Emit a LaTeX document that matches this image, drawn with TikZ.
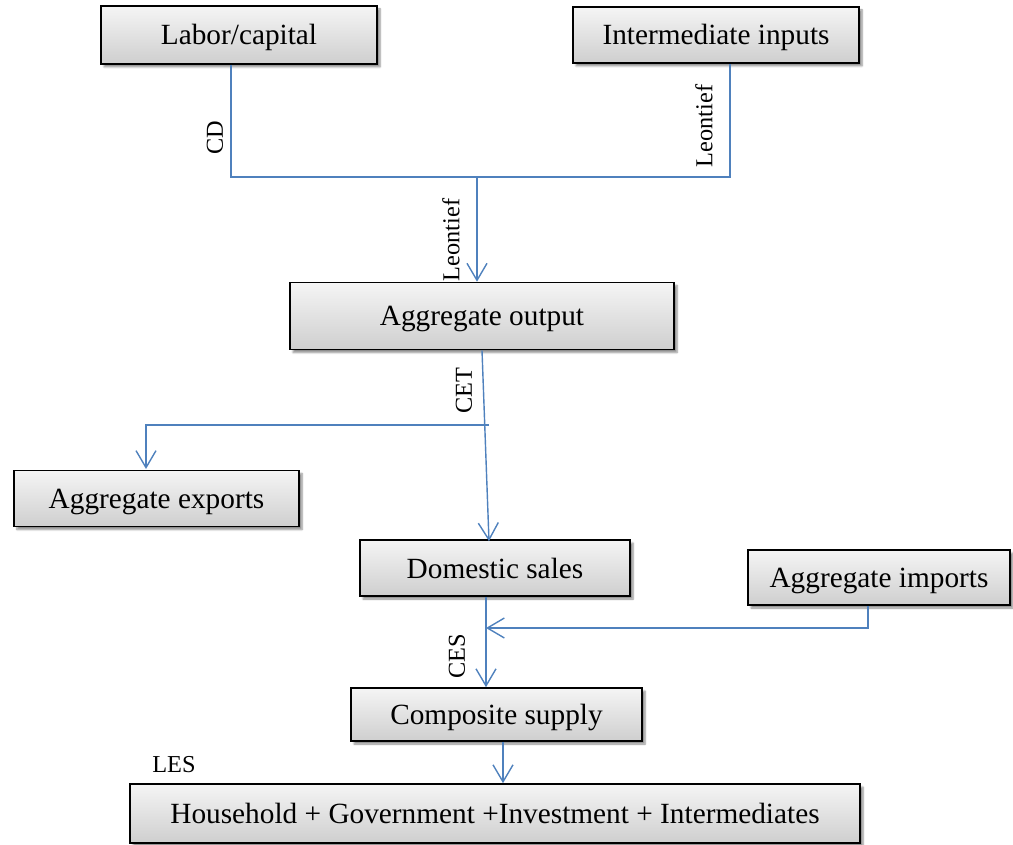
\documentclass[tikz,border=0pt]{standalone}
\usepackage{fontspec}
\setmainfont{Liberation Serif}
\usetikzlibrary{arrows.meta,shadows.blur}
\definecolor{linkblue}{HTML}{4F81BD}
\begin{document}
\begin{tikzpicture}[x=1pt,y=-1pt,
  box/.style={draw=black,line width=1.6pt,top color=gray!8,bottom color=gray!38,
    inner sep=0pt,align=center,font=\fontsize{29.3}{34}\selectfont,
    text height=26pt,text depth=6pt,
    blur shadow={shadow xshift=3pt,shadow yshift=-3pt,shadow blur steps=6,shadow opacity=45}},
  link/.style={draw=linkblue,line width=1.4pt},
  flow/.style={link,-{Straight Barb[length=17pt,width=20pt,line width=1.4pt]}},
  tag/.style={font=\fontsize{24.3}{28}\selectfont,inner sep=0pt},
  vtag/.style={tag,rotate=90}]
\useasboundingbox (0,0) rectangle (1013,845);

% boxes
\node[box,minimum width=276pt,minimum height=58pt] (lab) at (239,35) {Labor/capital};
\node[box,minimum width=286pt,minimum height=56pt] (int) at (716,35) {Intermediate inputs};
\node[box,minimum width=384pt,minimum height=67pt] (out) at (482,316) {Aggregate output};
\node[box,minimum width=285pt,minimum height=56pt] (exp) at (156.5,498.5) {Aggregate exports};
\node[box,minimum width=270pt,minimum height=56pt] (dom) at (495,568) {Domestic sales};
\node[box,minimum width=262pt,minimum height=55pt] (imp) at (879,577.5) {Aggregate imports};
\node[box,minimum width=291pt,minimum height=53pt] (comp) at (496.5,714.5) {Composite supply};
\node[box,minimum width=730pt,minimum height=59pt] (hh) at (495,813.5) {Household + Government +Investment + Intermediates};

% junction points
\coordinate (jprod) at (477,177);
\coordinate (jcet) at (489,425);
\coordinate (jces) at (486,628);

% production nest
\draw[link] ([xshift=-8pt]lab.south) |- (jprod) -| ([xshift=14pt]int.south);
\draw[flow] (jprod) -- (jprod |- out.north);

% output split
\draw[flow] (out.south) -- ([xshift=-6pt,yshift=-2pt]dom.north);
\draw[flow] (jcet) -- (146,425) -- (146,469);

% Armington nest
\draw[flow] ([xshift=-9pt]dom.south) -- ([xshift=-10.5pt]comp.north);
\draw[flow] ([xshift=-11pt]imp.south) |- (jces);

% final demand
\draw[flow] ([xshift=6.5pt]comp.south) -- ([xshift=8pt]hh.north);

% nest labels
\node[vtag] (lcd) at (215,138) {CD};
\node[vtag] (lleo1) at (704,126) {Leontief};
\node[vtag] (lleo2) at (451,240) {Leontief};
\node[vtag] (lcet) at (464,391) {CET};
\node[vtag] (lces) at (457,656) {CES};
\node[tag] (lles) at (174,765) {LES};
\end{tikzpicture}
\end{document}
